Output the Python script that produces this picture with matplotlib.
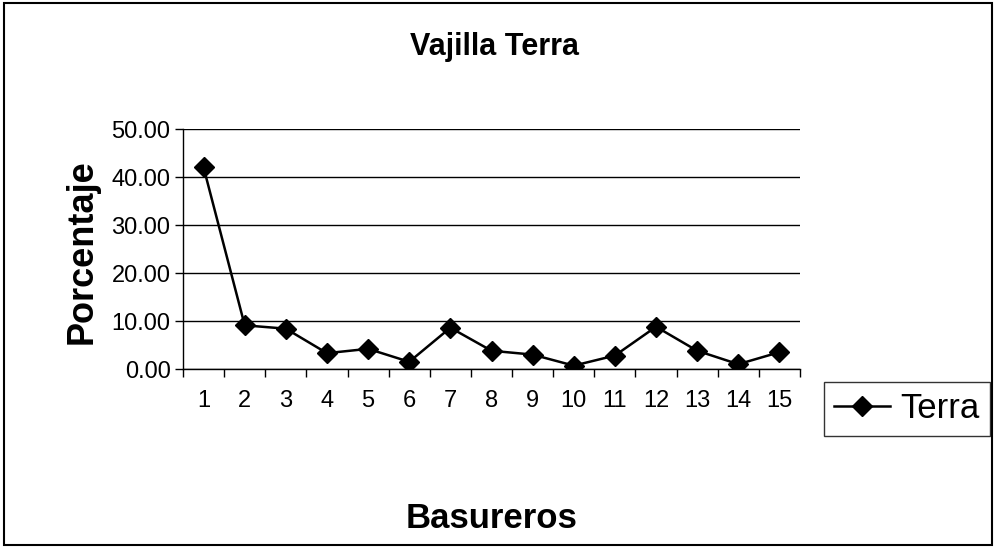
import matplotlib.pyplot as plt
import matplotlib.patches as mpatches
import numpy as np

plt.rcParams['font.family'] = ['Liberation Sans', 'DejaVu Sans']

basureros = list(range(1, 16))
terra = [42.0, 9.1, 8.4, 3.3, 4.2, 1.5, 8.6, 3.8, 3.0, 0.7, 2.8, 8.8, 3.8, 1.0, 3.5]
y_ticks = [0, 10, 20, 30, 40, 50]

fig = plt.figure(figsize=(9.96, 5.48), dpi=100)
ax = fig.add_axes([183/996, 1 - 369/548, 617/996, 240/548])

ax.plot(basureros, terra, color='black', linewidth=1.8, marker='D',
        markersize=10, markerfacecolor='black', label='Terra')

ax.set_xlim(0.5, 15.5)
ax.set_ylim(0, 50)
ax.set_yticks(y_ticks)
ax.set_yticklabels([f'{v:.2f}' for v in y_ticks], fontsize=17)
ax.set_xticks(basureros)
ax.set_xticklabels([str(b) for b in basureros], fontsize=17)
ax.tick_params(axis='x', which='major', length=0, pad=15)
ax.set_xticks(np.arange(0.5, 16, 1), minor=True)
ax.tick_params(axis='x', which='minor', length=6, direction='out', width=1)
ax.tick_params(axis='y', length=6, direction='out', width=1, pad=3)
ax.grid(True, axis='y', color='black', linewidth=1)

for s in ['top', 'right']:
    ax.spines[s].set_visible(False)
ax.spines['left'].set_linewidth(1)
ax.spines['bottom'].set_linewidth(1)

fig.text(494/996, 1 - 47/548, 'Vajilla Terra', ha='center', va='center',
         fontsize=22, fontweight='bold')
fig.text(82/996, 1 - 252/548, 'Porcentaje', ha='center', va='center',
         rotation=90, fontsize=26, fontweight='bold')
fig.text(492/996, 1 - 518/548, 'Basureros', ha='center', va='center',
         fontsize=25, fontweight='bold')

leg = fig.legend(loc='center', bbox_to_anchor=(907/996, 1 - 409/548),
                 fontsize=25, frameon=True, fancybox=False, edgecolor='black',
                 handlelength=1.6, borderpad=0.3, handletextpad=0.3,
                 borderaxespad=0)
leg.get_frame().set_linewidth(1)

fig.patches.append(mpatches.Rectangle((0.004, 0.006), 0.992, 0.988,
                                      transform=fig.transFigure, fill=False,
                                      edgecolor='black', linewidth=1.5))

fig.savefig('out.png', dpi=100)
